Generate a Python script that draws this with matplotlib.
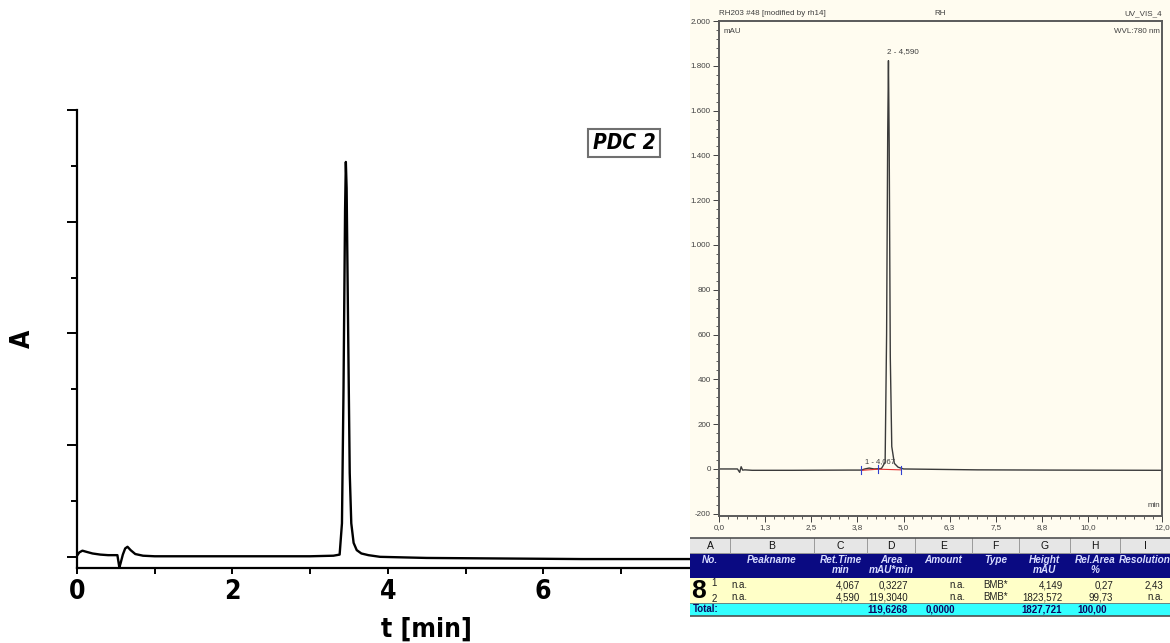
import matplotlib
matplotlib.use("Agg")
import matplotlib.pyplot as plt
from matplotlib.patches import Rectangle
from matplotlib import font_manager

# ---- main chromatogram (PDC 2) ----
main_t = [0, 0.03, 0.07, 0.12, 0.2, 0.3, 0.4, 0.52, 0.545, 0.56, 0.59, 0.62, 0.65,
          0.69, 0.75, 0.85, 1.0, 1.5, 2.0, 2.5, 3.0, 3.3, 3.38, 3.41, 3.43, 3.45,
          3.46, 3.47, 3.49, 3.51, 3.53, 3.56, 3.6, 3.66, 3.75, 3.9, 4.5, 5.5, 6.5,
          7.5, 8.5, 9.0]
main_a = [0.002, 0.008, 0.011, 0.009, 0.006, 0.004, 0.003, 0.003, -0.019, -0.012,
          0.004, 0.015, 0.018, 0.012, 0.005, 0.002, 0.001, 0.001, 0.001, 0.001,
          0.001, 0.002, 0.004, 0.06, 0.3, 0.62, 0.707, 0.66, 0.4, 0.15, 0.06, 0.025,
          0.012, 0.006, 0.003, 0.0, -0.002, -0.003, -0.004, -0.004, -0.004, -0.004]
main_xticks = [0, 2, 4, 6, 8]
main_xminor = [1, 3, 5, 7]
main_ymajor = [0, 0.2, 0.4, 0.6, 0.8]
main_yminor = [0.1, 0.3, 0.5, 0.7]

# ---- inset: instrument screenshot ----
ins_t = [0, 0.5, 0.56, 0.6, 0.64, 0.7, 0.9, 2.0, 3.5, 3.86, 3.95, 4.067, 4.2, 4.4,
         4.5, 4.54, 4.57, 4.59, 4.61, 4.64, 4.68, 4.75, 4.85, 5.0, 7.0, 9.0, 12.0]
ins_a = [0, 0, -15, 10, -5, -4, -6, -6, -5, -5, 0, 4, 0, 2, 30, 600, 1500, 1823,
         1450, 500, 100, 25, 8, 0, -4, -5, -6]
ins_xticks = [0, 1.25, 2.5, 3.75, 5.0, 6.25, 7.5, 8.75, 10.0, 12.0]
ins_xlabels = ['0,0', '1,3', '2,5', '3,8', '5,0', '6,3', '7,5', '8,8', '10,0', '12,0']
ins_yticks = [2000, 1800, 1600, 1400, 1200, 1000, 800, 600, 400, 200, 0, -200]
ins_ylabels = ['2.000', '1.800', '1.600', '1.400', '1.200', '1.000', '800', '600',
               '400', '200', '0', '-200']
peak_labels = ['1 - 4,067', '2 - 4,590']
peak_pos = [(4.067, 4.149), (4.590, 1823.572)]
base_t = [3.86, 4.32, 4.93]
base_a = [-6, -1, -4]

col_letters = ['A', 'B', 'C', 'D', 'E', 'F', 'G', 'H', 'I']
col_heads = ['No.', 'Peakname', 'Ret.Time\nmin', 'Area\nmAU*min', 'Amount', 'Type',
             'Height\nmAU', 'Rel.Area\n%', 'Resolution']
rows = [['1', 'n.a.', '4,067', '0,3227', 'n.a.', 'BMB*', '4,149', '0,27', '2,43'],
        ['2', 'n.a.', '4,590', '119,3040', 'n.a.', 'BMB*', '1823,572', '99,73', 'n.a.']]
total_row = ['Total:', '', '', '119,6268', '0,0000', '', '1827,721', '100,00', '']

W, H = 1170, 643
fig = plt.figure(figsize=(W / 100, H / 100), dpi=100)


def px_axes(x0, y0, x1, y1):
    return fig.add_axes([x0 / W, 1 - y1 / H, (x1 - x0) / W, (y1 - y0) / H])


big = dict(family='DejaVu Sans', stretch='condensed', weight='bold', size=19)
arial = ['Liberation Sans', 'DejaVu Sans']

# main plot
ax = px_axes(77, 110, 77 + 9 * 77.7, 568)
ax.plot(main_t, main_a, color='black', lw=1.7)
ax.set_xlim(0, 9)
ax.set_ylim(-0.02, 0.8)
for s in ['top', 'right']:
    ax.spines[s].set_visible(False)
for s in ['left', 'bottom']:
    ax.spines[s].set_linewidth(1.6)
ax.set_xticks(main_xticks)
ax.set_xticks(main_xminor, minor=True)
ax.set_yticks(main_ymajor)
ax.set_yticks(main_yminor, minor=True)
ax.set_yticklabels([])
ax.tick_params(axis='x', which='both', length=4, width=1.4, pad=4)
ax.tick_params(axis='y', which='major', length=7, width=1.4)
ax.tick_params(axis='y', which='minor', length=4, width=1.4)
ax.set_xticklabels([str(v) for v in main_xticks],
                   fontproperties=font_manager.FontProperties(**big))
ax.set_xlabel('t [min]', fontproperties=font_manager.FontProperties(**big),
              labelpad=8)
ax.set_ylabel('A', fontproperties=font_manager.FontProperties(**big), labelpad=19)
fig.text(624 / W, 1 - 143 / H, 'PDC 2', family='DejaVu Sans', stretch='condensed',
         fontweight='bold', fontstyle='italic', fontsize=15, ha='center',
         va='center',
         bbox=dict(boxstyle='square,pad=0.2', fc='white', ec='#707070', lw=1.5))

# inset background
cream = '#fffcf0'
bg = px_axes(690, 0, 1170, 537)
bg.set_facecolor(cream)
bg.set_xticks([])
bg.set_yticks([])
for s in bg.spines.values():
    s.set_visible(False)

ia = px_axes(719, 21, 1162, 516)
ia.set_facecolor(cream)
ia.plot(ins_t, ins_a, color='#3a3a3a', lw=1.0)
ia.plot(base_t, base_a, color='#e03030', lw=0.8)
for bt, ba in zip(base_t, base_a):
    ia.plot([bt, bt], [ba - 18, ba + 18], color='#3040d0', lw=0.8)
ia.set_xlim(0, 12)
ia.set_ylim(-210, 2000)
ia.set_xticks(ins_xticks)
ia.set_xticklabels(ins_xlabels)
ia.set_xticks([i * 0.25 for i in range(49)], minor=True)
ia.set_yticks(ins_yticks)
ia.set_yticklabels(ins_ylabels)
ia.set_yticks(list(range(-200, 2001, 40)), minor=True)
ia.tick_params(which='major', length=4, width=0.7, color='#404040', pad=2,
               labelsize=5.8, labelcolor='#404040')
ia.tick_params(which='minor', length=2, width=0.6, color='#404040')
for lab in ia.get_xticklabels() + ia.get_yticklabels():
    lab.set_family(arial)
for s in ia.spines.values():
    s.set_color('#5a5a5a')
    s.set_linewidth(1.4)
ia.text(peak_pos[0][0] - 0.12, peak_pos[0][1] + 12, peak_labels[0], fontsize=5.5,
        color='#404040', family=arial, ha='left', va='bottom')
ia.text(peak_pos[1][0] - 0.03, peak_pos[1][1] + 25, peak_labels[1], fontsize=5.8,
        color='#404040', family=arial, ha='left', va='bottom')
ia.text(0.01, 0.985, 'mAU', transform=ia.transAxes, fontsize=5.8, color='#404040',
        family=arial, ha='left', va='top')
ia.text(0.995, 0.985, 'WVL:780 nm', transform=ia.transAxes, fontsize=5.8,
        color='#404040', family=arial, ha='right', va='top')
ia.text(0.995, 0.015, 'min', transform=ia.transAxes, fontsize=5.8, color='#404040',
        family=arial, ha='right', va='bottom')
ia.text(0.0, 1.008, 'RH203 #48 [modified by rh14]', transform=ia.transAxes,
        fontsize=5.8, color='#404040', family=arial, ha='left', va='bottom')
ia.text(0.5, 1.008, 'RH', transform=ia.transAxes, fontsize=5.8, color='#404040',
        family=arial, ha='center', va='bottom')
ia.text(1.0, 1.008, 'UV_VIS_4', transform=ia.transAxes, fontsize=5.8,
        color='#404040', family=arial, ha='right', va='bottom')

# results table
col_edges = [690, 730, 814, 867, 915, 972, 1019, 1070, 1120, 1170]
band_y = [538, 553, 578, 603, 616]
band_col = ['#e6e6e6', '#0a0a82', '#ffffc8', '#33ffff']
tb = px_axes(690, 536, 1170, 618)
tb.set_xlim(690, 1170)
tb.set_ylim(618, 536)
tb.axis('off')
for (y0, y1), c in zip(zip(band_y[:-1], band_y[1:]), band_col):
    tb.add_patch(Rectangle((690, y0), 480, y1 - y0, fc=c, ec='none'))
for x in col_edges[1:-1]:
    tb.plot([x, x], [band_y[0], band_y[1]], color='#9a9a9a', lw=0.7)
tb.plot([690, 1170], [band_y[0], band_y[0]], color='#505050', lw=1.2)
tb.plot([690, 1170], [band_y[1], band_y[1]], color='#9a9a9a', lw=0.7)
tb.plot([690, 1170], [band_y[-1], band_y[-1]], color='#505050', lw=1.2)
tb.plot([690, 1170], [band_y[3], band_y[3]], color='#707070', lw=0.6)

mids = [(a + b) / 2 for a, b in zip(col_edges[:-1], col_edges[1:])]
for m, letter in zip(mids, col_letters):
    tb.text(m, 546, letter, fontsize=7.5, ha='center', va='center', family=arial,
            color='#101010')
for m, head in zip(mids, col_heads):
    tb.text(m, 555, head, fontsize=7.2, ha='center', va='top', family=arial,
            fontweight='bold', fontstyle='italic', color='#d8dcff',
            linespacing=1.05, clip_on=True)

row_y = [585.5, 597.5]
for ry, row in zip(row_y, rows):
    tb.text(714, ry - 2 if row[0] == '1' else ry + 1, row[0], fontsize=7,
            ha='center', va='center', family=arial, color='#202020')
    tb.text(731, ry, row[1], fontsize=7, ha='left', va='center', family=arial,
            color='#202020')
    for j, val in enumerate(row[2:], start=2):
        if j == 5:
            tb.text(mids[j], ry, val, fontsize=7, ha='center', va='center',
                    family=arial, color='#202020')
        else:
            tb.text(col_edges[j + 1] - 7, ry, val, fontsize=7, ha='right',
                    va='center', family=arial, color='#202020')
tb.text(693, 609.5, total_row[0], fontsize=7, ha='left', va='center',
        family=arial, fontweight='bold', color='#0a0a60')
for j, val in enumerate(total_row[1:], start=1):
    if val:
        tb.text(mids[j] - 3, 609.5, val, fontsize=7, ha='center', va='center',
                family=arial, fontweight='bold', color='#0a0a60')
tb.text(691, 591, '8', fontsize=19, ha='left', va='center', family=arial,
        fontweight='bold', color='black')

fig.savefig('out.png', dpi=100)
